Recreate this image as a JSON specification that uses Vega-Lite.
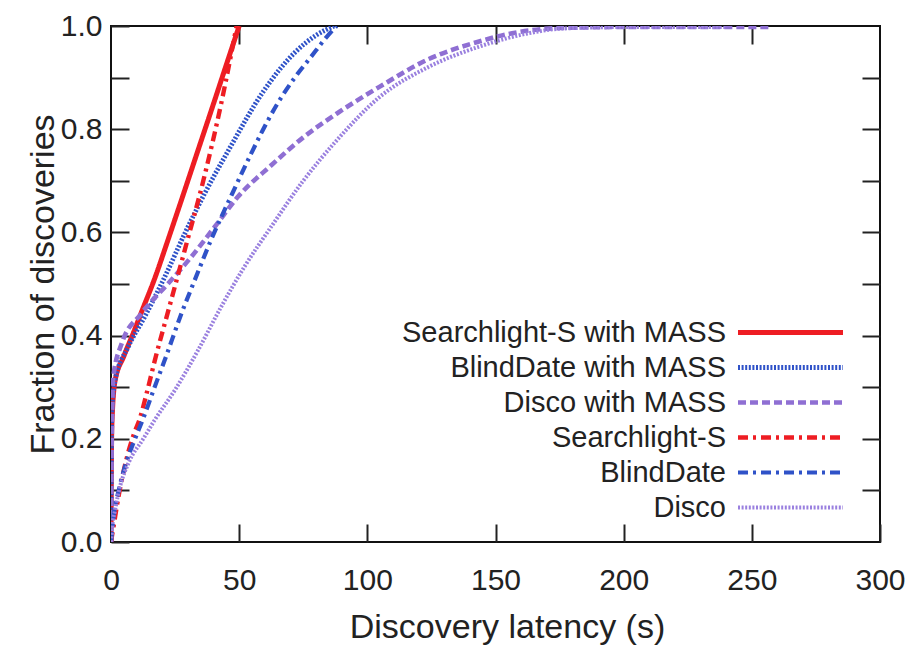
{
  "$schema": "https://vega.github.io/schema/vega-lite/v6.json",
  "width": 769,
  "height": 516,
  "autosize": "none",
  "padding": {"left": 111, "top": 26, "right": 43, "bottom": 107},
  "config": {
    "font": "Liberation Sans",
    "view": {"stroke": "#111", "strokeWidth": 2},
    "axis": {"grid": false, "domain": false, "tickColor": "#222", "tickWidth": 2, "labelColor": "#222", "titleColor": "#222", "titleFontWeight": "normal"}
  },
  "datasets": {
    "curves": [
      {"s": "Searchlight-S with MASS", "x": 0, "y": 0},
      {"s": "Searchlight-S with MASS", "x": 0.3, "y": 0.22},
      {"s": "Searchlight-S with MASS", "x": 1.5, "y": 0.31},
      {"s": "Searchlight-S with MASS", "x": 5, "y": 0.36},
      {"s": "Searchlight-S with MASS", "x": 8.7, "y": 0.405},
      {"s": "Searchlight-S with MASS", "x": 12, "y": 0.447},
      {"s": "Searchlight-S with MASS", "x": 17, "y": 0.51},
      {"s": "Searchlight-S with MASS", "x": 22, "y": 0.582},
      {"s": "Searchlight-S with MASS", "x": 27.5, "y": 0.663},
      {"s": "Searchlight-S with MASS", "x": 34, "y": 0.76},
      {"s": "Searchlight-S with MASS", "x": 40.5, "y": 0.857},
      {"s": "Searchlight-S with MASS", "x": 45, "y": 0.925},
      {"s": "Searchlight-S with MASS", "x": 50, "y": 1.0},

      {"s": "BlindDate with MASS", "x": 0, "y": 0},
      {"s": "BlindDate with MASS", "x": 0.3, "y": 0.25},
      {"s": "BlindDate with MASS", "x": 1.6, "y": 0.314},
      {"s": "BlindDate with MASS", "x": 6.7, "y": 0.378},
      {"s": "BlindDate with MASS", "x": 13.2, "y": 0.437},
      {"s": "BlindDate with MASS", "x": 21, "y": 0.514},
      {"s": "BlindDate with MASS", "x": 28.8, "y": 0.598},
      {"s": "BlindDate with MASS", "x": 36.6, "y": 0.676},
      {"s": "BlindDate with MASS", "x": 46.5, "y": 0.765},
      {"s": "BlindDate with MASS", "x": 59, "y": 0.87},
      {"s": "BlindDate with MASS", "x": 72, "y": 0.95},
      {"s": "BlindDate with MASS", "x": 80, "y": 0.982},
      {"s": "BlindDate with MASS", "x": 87, "y": 1.0},

      {"s": "Disco with MASS", "x": 0, "y": 0},
      {"s": "Disco with MASS", "x": 0.3, "y": 0.2},
      {"s": "Disco with MASS", "x": 0.9, "y": 0.32},
      {"s": "Disco with MASS", "x": 4.2, "y": 0.385},
      {"s": "Disco with MASS", "x": 11.9, "y": 0.443},
      {"s": "Disco with MASS", "x": 22.3, "y": 0.501},
      {"s": "Disco with MASS", "x": 31.4, "y": 0.553},
      {"s": "Disco with MASS", "x": 40.5, "y": 0.611},
      {"s": "Disco with MASS", "x": 49.5, "y": 0.669},
      {"s": "Disco with MASS", "x": 62.5, "y": 0.73},
      {"s": "Disco with MASS", "x": 75.5, "y": 0.786},
      {"s": "Disco with MASS", "x": 88, "y": 0.83},
      {"s": "Disco with MASS", "x": 104.7, "y": 0.882},
      {"s": "Disco with MASS", "x": 124, "y": 0.936},
      {"s": "Disco with MASS", "x": 143.6, "y": 0.97},
      {"s": "Disco with MASS", "x": 156.5, "y": 0.986},
      {"s": "Disco with MASS", "x": 175, "y": 0.996},
      {"s": "Disco with MASS", "x": 200, "y": 0.998},
      {"s": "Disco with MASS", "x": 257, "y": 0.998},

      {"s": "Searchlight-S", "x": 0, "y": 0},
      {"s": "Searchlight-S", "x": 1, "y": 0.03},
      {"s": "Searchlight-S", "x": 3, "y": 0.09},
      {"s": "Searchlight-S", "x": 6, "y": 0.16},
      {"s": "Searchlight-S", "x": 9, "y": 0.21},
      {"s": "Searchlight-S", "x": 11.3, "y": 0.24},
      {"s": "Searchlight-S", "x": 14, "y": 0.29},
      {"s": "Searchlight-S", "x": 17, "y": 0.35},
      {"s": "Searchlight-S", "x": 23, "y": 0.46},
      {"s": "Searchlight-S", "x": 29, "y": 0.57},
      {"s": "Searchlight-S", "x": 36, "y": 0.7},
      {"s": "Searchlight-S", "x": 43, "y": 0.85},
      {"s": "Searchlight-S", "x": 49, "y": 1.0},

      {"s": "BlindDate", "x": 0, "y": 0},
      {"s": "BlindDate", "x": 1, "y": 0.05},
      {"s": "BlindDate", "x": 3, "y": 0.1},
      {"s": "BlindDate", "x": 6, "y": 0.155},
      {"s": "BlindDate", "x": 9, "y": 0.195},
      {"s": "BlindDate", "x": 13, "y": 0.245},
      {"s": "BlindDate", "x": 17, "y": 0.3},
      {"s": "BlindDate", "x": 21, "y": 0.353},
      {"s": "BlindDate", "x": 27.5, "y": 0.443},
      {"s": "BlindDate", "x": 32.7, "y": 0.508},
      {"s": "BlindDate", "x": 39, "y": 0.585},
      {"s": "BlindDate", "x": 47, "y": 0.672},
      {"s": "BlindDate", "x": 54.7, "y": 0.753},
      {"s": "BlindDate", "x": 59.2, "y": 0.798},
      {"s": "BlindDate", "x": 65, "y": 0.85},
      {"s": "BlindDate", "x": 72, "y": 0.902},
      {"s": "BlindDate", "x": 78, "y": 0.94},
      {"s": "BlindDate", "x": 84, "y": 0.978},
      {"s": "BlindDate", "x": 88, "y": 1.0},

      {"s": "Disco", "x": 0, "y": 0},
      {"s": "Disco", "x": 0.5, "y": 0.03},
      {"s": "Disco", "x": 1.5, "y": 0.06},
      {"s": "Disco", "x": 3.5, "y": 0.107},
      {"s": "Disco", "x": 7, "y": 0.155},
      {"s": "Disco", "x": 12.6, "y": 0.2},
      {"s": "Disco", "x": 17, "y": 0.236},
      {"s": "Disco", "x": 25, "y": 0.295},
      {"s": "Disco", "x": 34, "y": 0.372},
      {"s": "Disco", "x": 43, "y": 0.456},
      {"s": "Disco", "x": 52, "y": 0.533},
      {"s": "Disco", "x": 62.5, "y": 0.611},
      {"s": "Disco", "x": 75, "y": 0.7},
      {"s": "Disco", "x": 88, "y": 0.778},
      {"s": "Disco", "x": 104.7, "y": 0.862},
      {"s": "Disco", "x": 124, "y": 0.921},
      {"s": "Disco", "x": 143.6, "y": 0.96},
      {"s": "Disco", "x": 163, "y": 0.986},
      {"s": "Disco", "x": 176, "y": 0.995},
      {"s": "Disco", "x": 200, "y": 0.998},
      {"s": "Disco", "x": 240, "y": 0.998}
    ]
  },
  "data": {"name": "curves"},
  "resolve": {"axis": {"x": "independent", "y": "independent"}},
  "layer": [
    {
      "mark": {"type": "line", "interpolate": "monotone", "clip": true},
      "encoding": {
        "x": {
          "field": "x", "type": "quantitative",
          "scale": {"domain": [0, 300], "nice": false},
          "axis": {
            "orient": "bottom",
            "title": "Discovery latency (s)",
            "values": [0, 50, 100, 150, 200, 250, 300],
            "tickSize": -18,
            "labelPadding": 41,
            "labelFontSize": 30,
            "titleFontSize": 34,
            "titlePadding": 15,
            "titleX": 396,
            "labelFlush": false
          }
        },
        "y": {
          "field": "y", "type": "quantitative",
          "scale": {"domain": [0, 1], "nice": false},
          "axis": {
            "orient": "left",
            "title": "Fraction of discoveries",
            "values": [0, 0.1, 0.2, 0.3, 0.4, 0.5, 0.6, 0.7, 0.8, 0.9, 1.0],
            "labelExpr": "round(datum.value*10) % 2 == 0 ? format(datum.value, '.1f') : ''",
            "tickSize": -18,
            "labelPadding": 27,
            "labelFontSize": 30,
            "titleFontSize": 34,
            "titlePadding": 0,
            "labelFlush": false
          }
        },
        "color": {
          "field": "s", "type": "nominal",
          "scale": {
            "domain": ["Searchlight-S with MASS", "BlindDate with MASS", "Disco with MASS", "Searchlight-S", "BlindDate", "Disco"],
            "range": ["#ee1d23", "#2f52c8", "#8f6fd3", "#ee1d23", "#2f52c8", "#9a80df"]
          },
          "legend": {
            "title": null,
            "orient": "none",
            "legendX": 627,
            "legendY": 292,
            "direction": "vertical",
            "padding": 0,
            "symbolType": "M-5,0H5",
            "symbolSize": 441,
            "symbolOffset": 38,
            "labelAlign": "right",
            "labelOffset": -79,
            "labelFontSize": 29,
            "labelColor": "#222",
            "labelLimit": 600,
            "rowPadding": 5
          }
        },
        "strokeDash": {
          "field": "s", "type": "nominal",
          "scale": {
            "domain": ["Searchlight-S with MASS", "BlindDate with MASS", "Disco with MASS", "Searchlight-S", "BlindDate", "Disco"],
            "range": [[1, 0], [2, 1.6], [8, 4], [10, 5, 3, 5], [10, 5, 3, 5], [2, 1.6]]
          },
          "legend": null
        },
        "strokeWidth": {
          "field": "s", "type": "nominal",
          "scale": {
            "domain": ["Searchlight-S with MASS", "BlindDate with MASS", "Disco with MASS", "Searchlight-S", "BlindDate", "Disco"],
            "range": [5, 4, 4, 4, 4, 3.5]
          },
          "legend": null
        }
      }
    },
    {
      "mark": {"type": "line", "strokeOpacity": 0},
      "encoding": {
        "x": {
          "field": "x", "type": "quantitative",
          "axis": {"orient": "top", "title": null, "labels": false, "values": [50, 100, 150, 200, 250], "tickSize": -18}
        },
        "y": {
          "field": "y", "type": "quantitative",
          "axis": {"orient": "right", "title": null, "labels": false, "values": [0.1, 0.2, 0.3, 0.4, 0.5, 0.6, 0.7, 0.8, 0.9], "tickSize": -18}
        }
      }
    }
  ]
}
